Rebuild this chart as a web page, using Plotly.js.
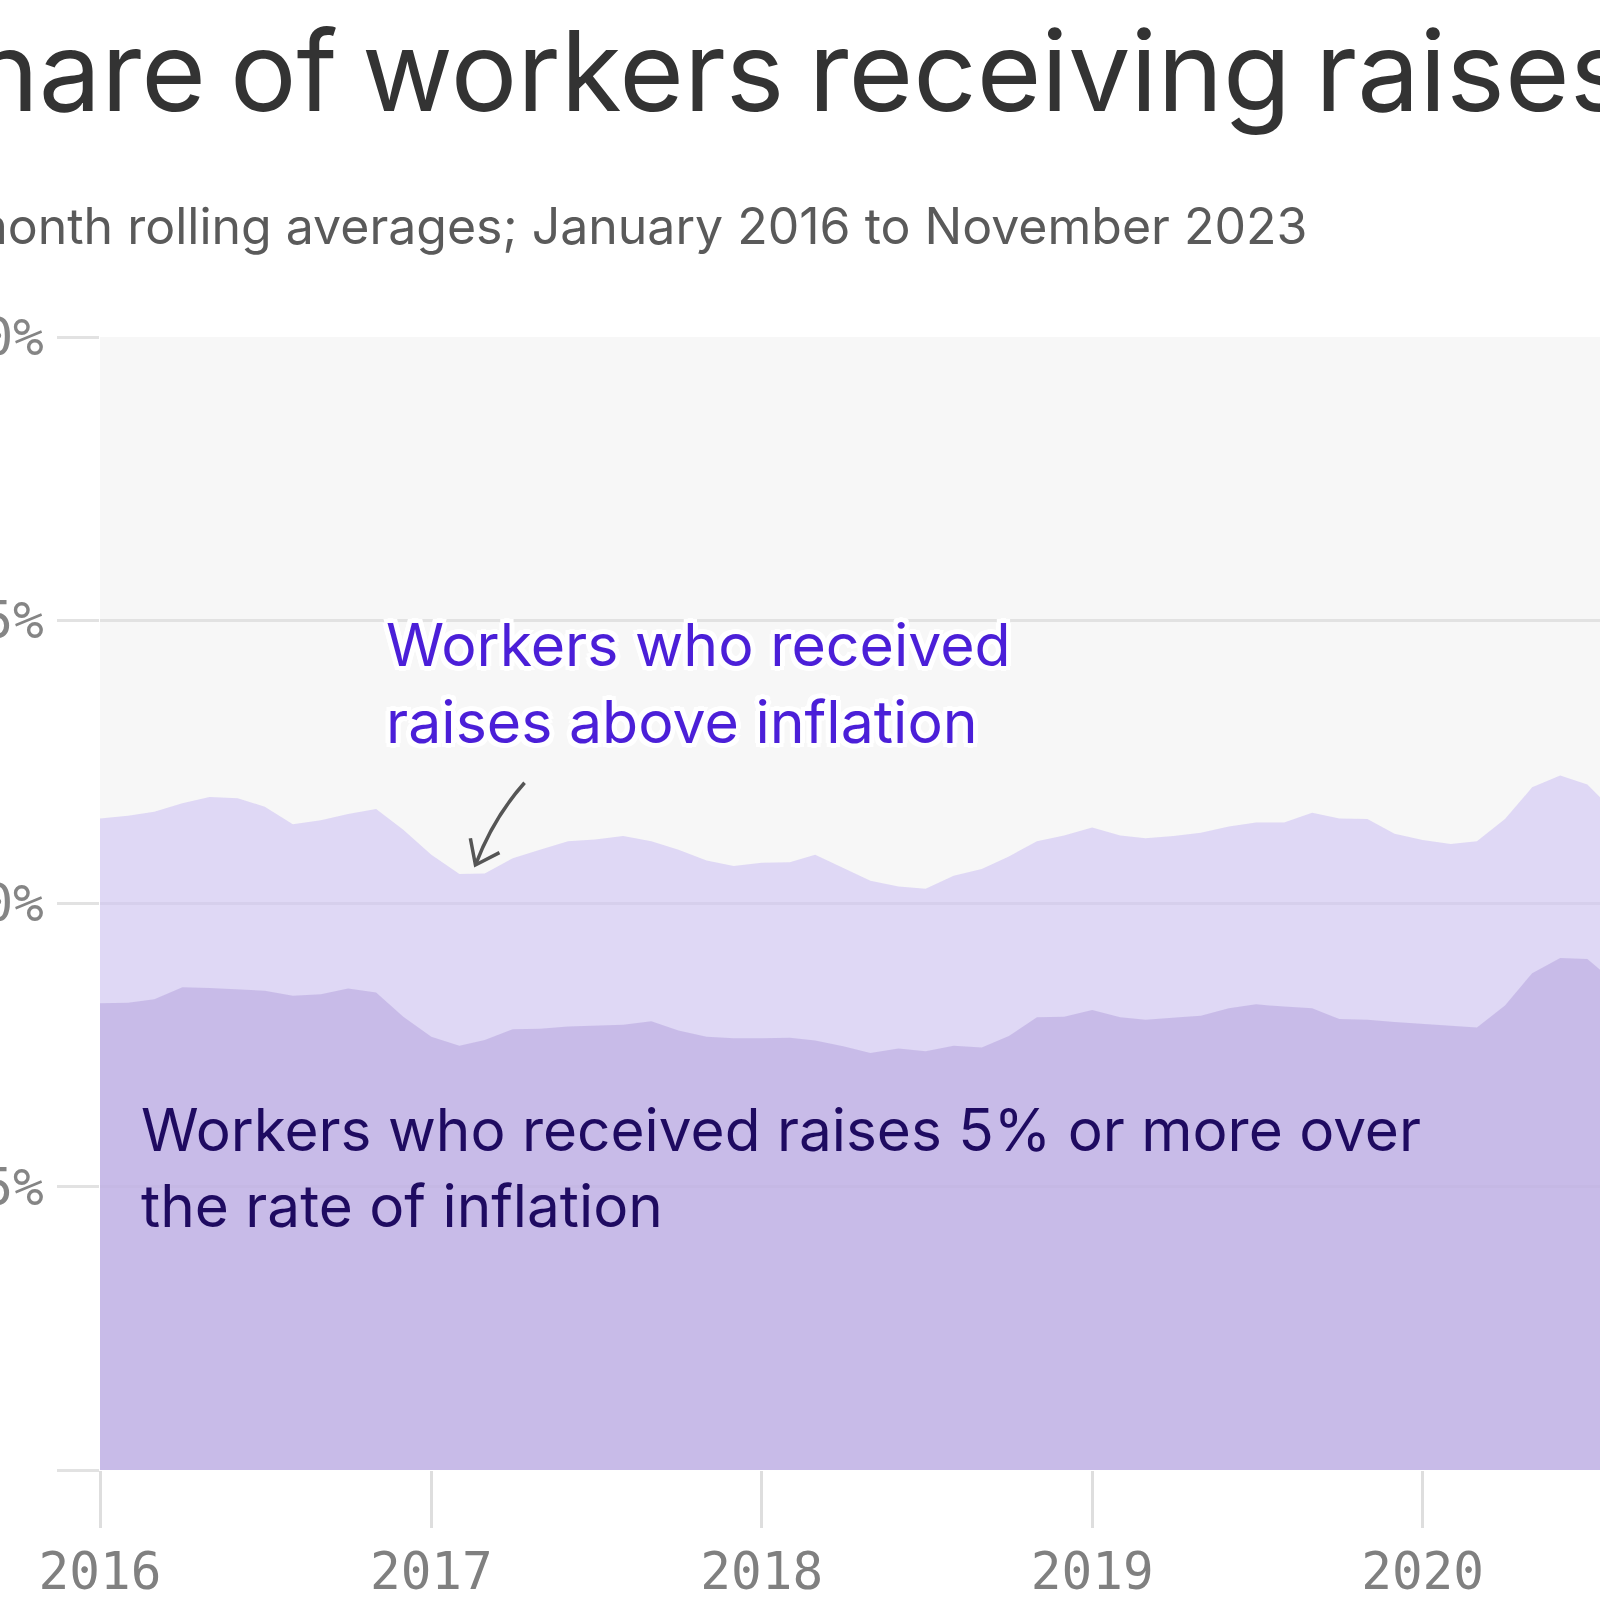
<!DOCTYPE html>
<html>
<head>
<meta charset="utf-8">
<script src="https://cdn.plot.ly/plotly-3.0.1.min.js"></script>
<style>
  html, body { margin: 0; padding: 0; background: #ffffff; overflow: hidden; width: 1600px; height: 1600px; }
  #chart { position: absolute; left: -200px; top: 0; width: 2940px; height: 1600px; }
</style>
</head>
<body>
<div id="chart"></div>
<script>
// ---- data (3-month rolling averages, % of workers) ----
const months = [
  '2016-01-01','2016-02-01','2016-03-01','2016-04-01','2016-05-01','2016-06-01','2016-07-01','2016-08-01','2016-09-01','2016-10-01','2016-11-01','2016-12-01',
  '2017-01-01','2017-02-01','2017-03-01','2017-04-01','2017-05-01','2017-06-01','2017-07-01','2017-08-01','2017-09-01','2017-10-01','2017-11-01','2017-12-01',
  '2018-01-01','2018-02-01','2018-03-01','2018-04-01','2018-05-01','2018-06-01','2018-07-01','2018-08-01','2018-09-01','2018-10-01','2018-11-01','2018-12-01',
  '2019-01-01','2019-02-01','2019-03-01','2019-04-01','2019-05-01','2019-06-01','2019-07-01','2019-08-01','2019-09-01','2019-10-01','2019-11-01','2019-12-01',
  '2020-01-01','2020-02-01','2020-03-01','2020-04-01','2020-05-01','2020-06-01','2020-07-01','2020-08-01'
];
const aboveInflation = [
  11.50, 11.55, 11.62, 11.77, 11.88, 11.86, 11.71, 11.40, 11.47, 11.58, 11.67, 11.30,
  10.86, 10.52, 10.53, 10.80, 10.95, 11.10, 11.13, 11.19, 11.10, 10.95, 10.76, 10.66,
  10.72, 10.73, 10.86, 10.63, 10.40, 10.30, 10.26, 10.49, 10.61, 10.83, 11.10, 11.20,
  11.34, 11.20, 11.15, 11.19, 11.25, 11.36, 11.43, 11.43, 11.60, 11.50, 11.49, 11.23,
  11.12, 11.05, 11.10, 11.49, 12.05, 12.26, 12.10, 11.60
];
const fivePlusOver = [
  8.24, 8.25, 8.31, 8.52, 8.51, 8.49, 8.46, 8.37, 8.40, 8.50, 8.43, 8.00,
  7.65, 7.49, 7.59, 7.78, 7.79, 7.83, 7.84, 7.86, 7.92, 7.76, 7.65, 7.62,
  7.62, 7.63, 7.58, 7.48, 7.36, 7.44, 7.39, 7.49, 7.46, 7.66, 7.99, 8.00,
  8.12, 7.99, 7.95, 7.98, 8.02, 8.15, 8.22, 8.18, 8.15, 7.96, 7.95, 7.91,
  7.88, 7.84, 7.81, 8.20, 8.77, 9.04, 9.02, 8.60
];
const yearTicks = ['2016-01-01','2017-01-01','2018-01-01','2019-01-01','2020-01-01'];
const yearLabels = ['2016','2017','2018','2019','2020'];
const yTickVals = [0, 5, 10, 15, 20];
const yTickText = ['', '5%', '10%', '15%', '20%'];

const titleText = 'Share of workers receiving raises above inflation';
const subtitleText = '3-month rolling averages; January 2016 to November 2023';
const labelAbove = 'Workers who received<br>raises above inflation';
const labelFive = 'Workers who received raises 5% or more over<br>the rate of inflation';

// ---- geometry (page pixels) ----
const SHIFT = 200;
const ML = 300, MT = 336.7, PW = 2589.6, PH = 1133.7;
const W = 2940, H = 1600;
const PX = (px) => (px + SHIFT - ML) / PW;
const PY = (py) => (MT + PH - py) / PH;

const SANS = 'Inter, "Noto Sans", sans-serif';
const MONO = '"DejaVu Sans Mono", "Liberation Mono", monospace';

const traces = [
  {
    x: months, y: aboveInflation, type: 'scatter', mode: 'lines',
    fill: 'tozeroy', fillcolor: 'rgba(207,195,244,0.6)',
    line: { width: 0, color: 'rgba(0,0,0,0)' }, hoverinfo: 'skip', showlegend: false
  },
  {
    x: months, y: fivePlusOver, type: 'scatter', mode: 'lines',
    fill: 'tozeroy', fillcolor: 'rgba(185,169,223,0.6)',
    line: { width: 0, color: 'rgba(0,0,0,0)' }, hoverinfo: 'skip', showlegend: false
  }
];

const sh = '#fff';
const halo = [
  '3px 0 0 '+sh, '-3px 0 0 '+sh, '0 3px 0 '+sh, '0 -3px 0 '+sh,
  '2px 2px 0 '+sh, '-2px -2px 0 '+sh, '2px -2px 0 '+sh, '-2px 2px 0 '+sh,
  '5px 0 0 '+sh, '-5px 0 0 '+sh, '0 5px 0 '+sh, '0 -5px 0 '+sh,
  '4px 4px 0 '+sh, '-4px -4px 0 '+sh, '4px -4px 0 '+sh, '-4px 4px 0 '+sh
].join(', ');

const layout = {
  width: W, height: H,
  margin: { l: ML, r: W - ML - PW, t: MT, b: H - MT - PH, pad: 0 },
  paper_bgcolor: '#ffffff',
  plot_bgcolor: '#f7f7f7',
  showlegend: false,
  xaxis: {
    type: 'date',
    range: ['2016-01-01', '2023-11-01'],
    tickmode: 'array', tickvals: yearTicks, ticktext: yearLabels,
    showgrid: false, zeroline: false, showline: false,
    ticks: 'outside', ticklen: 57, tickwidth: 3, tickcolor: '#dedede',
    tickfont: { family: MONO, size: 51, color: '#808080' },
    fixedrange: true
  },
  yaxis: {
    range: [0, 20],
    tickmode: 'array', tickvals: yTickVals, ticktext: yTickText,
    showgrid: true, gridcolor: '#e2e2e2', gridwidth: 3,
    zeroline: false, showline: false,
    ticks: 'outside', ticklen: 42, tickwidth: 3, tickcolor: '#e2e2e2',
    ticklabelstandoff: 3,
    tickfont: { family: MONO, size: 51, color: '#858585' },
    fixedrange: true
  },
  annotations: [
    {
      text: '<span style="word-spacing:-7px">' + titleText + '</span>', xref: 'paper', yref: 'paper',
      x: PX(-100), y: PY(0), xanchor: 'left', yanchor: 'top', showarrow: false,
      font: { family: SANS, size: 111, color: '#333333' }, align: 'left'
    },
    {
      text: subtitleText, xref: 'paper', yref: 'paper',
      x: PX(-92), y: PY(194), xanchor: 'left', yanchor: 'top', showarrow: false,
      font: { family: SANS, size: 50, color: '#5a5a5a' }, align: 'left'
    },
    {
      text: labelAbove, xref: 'paper', yref: 'paper',
      x: PX(384), y: PY(607), xanchor: 'left', yanchor: 'top', showarrow: false,
      font: { family: SANS, size: 59, color: '#4b1fd8', shadow: halo }, align: 'left'
    },
    {
      text: labelFive, xref: 'paper', yref: 'paper',
      x: PX(139), y: PY(1092), xanchor: 'left', yanchor: 'top', showarrow: false,
      font: { family: SANS, size: 58.5, color: '#1f0b61' }, align: 'left'
    }
  ],
  shapes: [
    {
      type: 'path', xref: 'paper', yref: 'paper',
      path: 'M ' + PX(524.5) + ',' + PY(782.7) + ' Q ' + PX(493) + ',' + PY(818) + ' ' + PX(475.4) + ',' + PY(865),
      line: { color: '#555555', width: 3.5 }
    },
    {
      type: 'path', xref: 'paper', yref: 'paper',
      path: 'M ' + PX(470.3) + ',' + PY(838.3) + ' L ' + PX(475.4) + ',' + PY(865) + ' L ' + PX(499.4) + ',' + PY(852.7),
      line: { color: '#555555', width: 3.5 }
    }
  ]
};

Plotly.newPlot('chart', traces, layout, { displayModeBar: false, staticPlot: true });
</script>
</body>
</html>
